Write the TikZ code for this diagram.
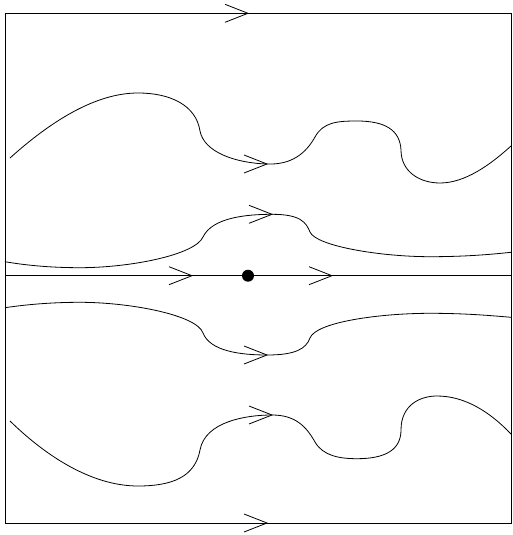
\documentclass[tikz,border=0pt]{standalone}
\newcommand\chevron[1]{\draw[flowline] (#1) ++(-23,-9) -- (#1) -- ++(-23,9);}
\begin{document}
\begin{tikzpicture}[x=0.75pt,y=-0.75pt,
  flowline/.style={line width=0.6pt, line join=miter},
  traj/.style={line width=0.6pt}]
\useasboundingbox (0,0) rectangle (512,535);
% frame
\coordinate (tl) at (5,13.3);
\coordinate (br) at (511,523);
\draw[flowline] (tl) rectangle (br);
% axis
\coordinate (axL) at (5,275.7);
\coordinate (axR) at (511,275.7);
\draw[flowline] (axL) -- (axR);
\coordinate (eq) at (248,275.7);
\fill (eq) circle (6);
% arrows on frame and axis
\coordinate (aTop) at (248,13.3);
\coordinate (aBot) at (267,523);
\coordinate (aM1) at (192,275.7);
\coordinate (aM2) at (332,275.7);
\chevron{aTop}
\chevron{aBot}
\chevron{aM1}
\chevron{aM2}
% trajectory 1
\coordinate (a1) at (267,164);
\draw[traj] (10,158) .. controls (50,122) and (95,93) .. (138,93)
  .. controls (170,93) and (196,105) .. (200,131)
  .. controls (204,152) and (235,163) .. (a1)
  .. controls (292,165) and (306,153) .. (315,137)
  .. controls (323,122) and (338,121) .. (357,121)
  .. controls (385,121) and (400,130) .. (401,150)
  .. controls (401,172) and (420,183) .. (440,183)
  .. controls (465,183) and (490,165) .. (511,146);
\chevron{a1}
% trajectory 2
\coordinate (a2) at (272,214.3);
\draw[traj] (5,261.7) .. controls (30,266) and (55,267.7) .. (80,267.7)
  .. controls (130,267.7) and (195,255) .. (203,237)
  .. controls (212,218) and (245,214.3) .. (a2)
  .. controls (300,214.3) and (306,222) .. (310,232)
  .. controls (316,246) and (380,256.7) .. (430,256.7)
  .. controls (465,256.7) and (490,254.5) .. (511,252.3);
\chevron{a2}
% trajectory 3
\coordinate (a3) at (267,355);
\draw[traj] (5,307.7) .. controls (30,304) and (55,302.3) .. (80,302.3)
  .. controls (130,302.3) and (197,315) .. (203,333)
  .. controls (210,351) and (240,355) .. (a3)
  .. controls (295,355) and (306,349) .. (310,338)
  .. controls (316,322) and (380,313.3) .. (430,313.3)
  .. controls (465,313.3) and (490,315.5) .. (511,317.3);
\chevron{a3}
% trajectory 4
\coordinate (a4) at (272,415);
\draw[traj] (10,421) .. controls (50,460) and (95,486) .. (138,486)
  .. controls (172,486) and (195,477) .. (200,450)
  .. controls (205,422) and (245,415) .. (a4)
  .. controls (295,415) and (306,426) .. (315,442)
  .. controls (323,456) and (340,458.7) .. (357,458.7)
  .. controls (385,458.7) and (401,450) .. (401,430)
  .. controls (401,405) and (420,396) .. (437,396)
  .. controls (465,396) and (490,412) .. (511,434);
\chevron{a4}
\end{tikzpicture}
\end{document}
